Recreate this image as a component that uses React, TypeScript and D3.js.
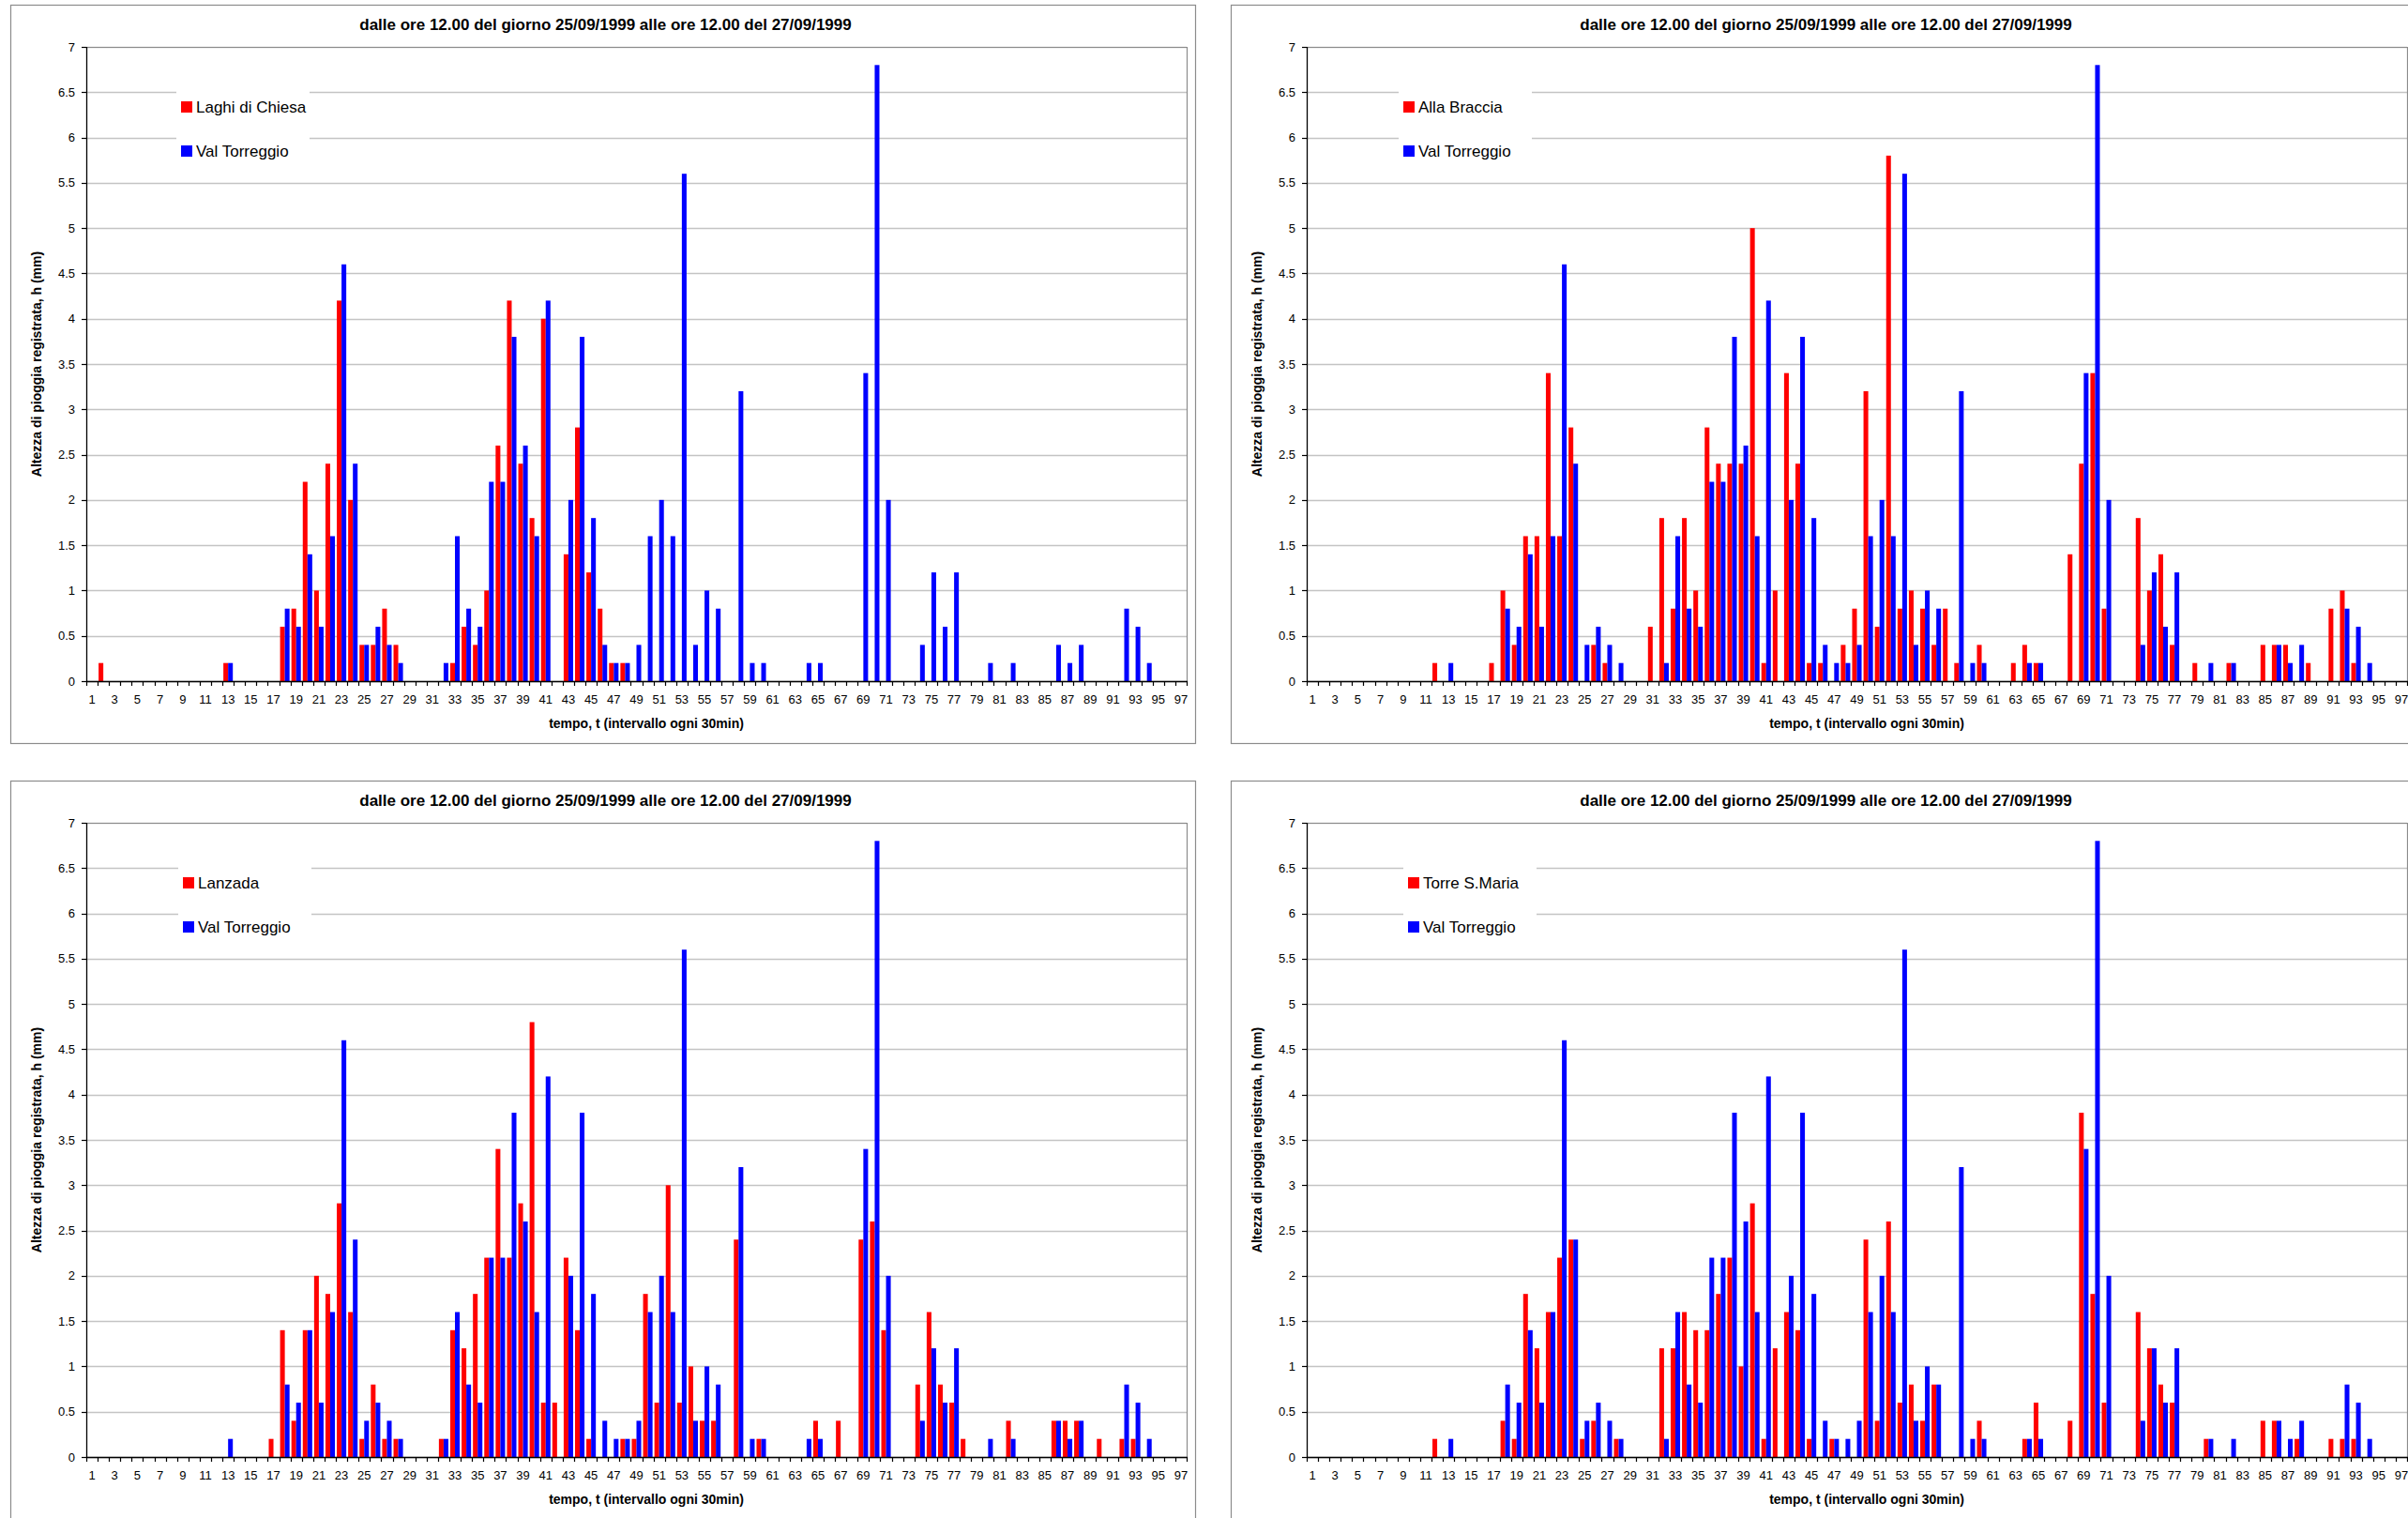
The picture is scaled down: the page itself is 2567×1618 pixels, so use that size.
import React from "react";
import * as d3 from "d3";

// ---- Text ----
const chartTitle = "dalle ore 12.00 del giorno 25/09/1999 alle ore 12.00 del 27/09/1999";
const yAxisTitle = "Altezza di pioggia registrata, h (mm)";
const xAxisTitle = "tempo, t (intervallo ogni 30min)";

// ---- Categories: half-hour steps 1..97 ----
const timeSteps = d3.range(1, 98);
const xTickLabels = timeSteps.filter((t) => t % 2 === 1);
const yTicks = [0, 0.5, 1, 1.5, 2, 2.5, 3, 3.5, 4, 4.5, 5, 5.5, 6, 6.5, 7];

// ---- Rainfall per half hour (mm), t = 1..97 ----
const valTorreggio = [
  0, 0, 0, 0, 0, 0, 0, 0, 0, 0,
  0, 0, 0.2, 0, 0, 0, 0, 0.8, 0.6, 1.4,
  0.6, 1.6, 4.6, 2.4, 0.4, 0.6, 0.4, 0.2, 0, 0,
  0, 0.2, 1.6, 0.8, 0.6, 2.2, 2.2, 3.8, 2.6, 1.6,
  4.2, 0, 2.0, 3.8, 1.8, 0.4, 0.2, 0.2, 0.4, 1.6,
  2.0, 1.6, 5.6, 0.4, 1.0, 0.8, 0, 3.2, 0.2, 0.2,
  0, 0, 0, 0.2, 0.2, 0, 0, 0, 3.4, 6.8,
  2.0, 0, 0, 0.4, 1.2, 0.6, 1.2, 0, 0, 0.2,
  0, 0.2, 0, 0, 0, 0.4, 0.2, 0.4, 0, 0,
  0, 0.8, 0.6, 0.2, 0, 0, 0,
];

const laghiDiChiesa = [
  0, 0.2, 0, 0, 0, 0, 0, 0, 0, 0,
  0, 0, 0.2, 0, 0, 0, 0, 0.6, 0.8, 2.2,
  1.0, 2.4, 4.2, 2.0, 0.4, 0.4, 0.8, 0.4, 0, 0,
  0, 0, 0.2, 0.6, 0.4, 1.0, 2.6, 4.2, 2.4, 1.8,
  4.0, 0, 1.4, 2.8, 1.2, 0.8, 0.2, 0.2, 0, 0,
  0, 0, 0, 0, 0, 0, 0, 0, 0, 0,
  0, 0, 0, 0, 0, 0, 0, 0, 0, 0,
  0, 0, 0, 0, 0, 0, 0, 0, 0, 0,
  0, 0, 0, 0, 0, 0, 0, 0, 0, 0,
  0, 0, 0, 0, 0, 0, 0,
];

const allaBraccia = [
  0, 0, 0, 0, 0, 0, 0, 0, 0, 0,
  0, 0.2, 0, 0, 0, 0, 0.2, 1.0, 0.4, 1.6,
  1.6, 3.4, 1.6, 2.8, 0, 0.4, 0.2, 0, 0, 0,
  0.6, 1.8, 0.8, 1.8, 1.0, 2.8, 2.4, 2.4, 2.4, 5.0,
  0.2, 1.0, 3.4, 2.4, 0.2, 0.2, 0, 0.4, 0.8, 3.2,
  0.6, 5.8, 0.8, 1.0, 0.8, 0.4, 0.8, 0.2, 0, 0.4,
  0, 0, 0.2, 0.4, 0.2, 0, 0, 1.4, 2.4, 3.4,
  0.8, 0, 0, 1.8, 1.0, 1.4, 0.4, 0, 0.2, 0,
  0, 0.2, 0, 0, 0.4, 0.4, 0.4, 0, 0.2, 0,
  0.8, 1.0, 0.2, 0, 0, 0, 0,
];

const lanzada = [
  0, 0, 0, 0, 0, 0, 0, 0, 0, 0,
  0, 0, 0, 0, 0, 0, 0.2, 1.4, 0.4, 1.4,
  2.0, 1.8, 2.8, 1.6, 0.2, 0.8, 0.2, 0.2, 0, 0,
  0, 0.2, 1.4, 1.2, 1.8, 2.2, 3.4, 2.2, 2.8, 4.8,
  0.6, 0.6, 2.2, 1.4, 0.2, 0, 0, 0.2, 0.2, 1.8,
  0.6, 3.0, 0.6, 1.0, 0.4, 0.4, 0, 2.4, 0, 0.2,
  0, 0, 0, 0, 0.4, 0, 0.4, 0, 2.4, 2.6,
  1.4, 0, 0, 0.8, 1.6, 0.8, 0.6, 0.2, 0, 0,
  0, 0.4, 0, 0, 0, 0.4, 0.4, 0.4, 0, 0.2,
  0, 0.2, 0.2, 0, 0, 0, 0,
];

const torreSMaria = [
  0, 0, 0, 0, 0, 0, 0, 0, 0, 0,
  0, 0.2, 0, 0, 0, 0, 0, 0.4, 0.2, 1.8,
  1.2, 1.6, 2.2, 2.4, 0.2, 0.4, 0, 0.2, 0, 0,
  0, 1.2, 1.2, 1.6, 1.4, 1.4, 1.8, 2.2, 1.0, 2.8,
  0.2, 1.2, 1.6, 1.4, 0.2, 0, 0.2, 0, 0, 2.4,
  0.4, 2.6, 0.6, 0.8, 0.4, 0.8, 0, 0, 0, 0.4,
  0, 0, 0, 0.2, 0.6, 0, 0, 0.4, 3.8, 1.8,
  0.6, 0, 0, 1.6, 1.2, 0.8, 0.6, 0, 0, 0.2,
  0, 0, 0, 0, 0.4, 0.4, 0, 0.2, 0, 0,
  0.2, 0.2, 0.2, 0, 0, 0, 0,
];

const referenceName = "Val Torreggio";
const stationNames = ["Laghi di Chiesa", "Alla Braccia", "Lanzada", "Torre S.Maria"];
const stationValues = [laghiDiChiesa, allaBraccia, lanzada, torreSMaria];

// ---- Layout ----
const W = 2567;
const H = 1618;
const FONT = "Arial, 'Liberation Sans', Helvetica, sans-serif";
const RED = "#ff0000";
const BLUE = "#0000ff";

const panelOrigins: [number, number][] = [
  [11, 5],
  [1312, 5],
  [11, 832],
  [1312, 832],
];
const legendShift = [0, 2, 2, 7];
const PANEL_W = 1263;
const PANEL_H = 787;
const PLOT = { left: 81, top: 45, width: 1173, height: 676 };

function Panel({
  ox,
  oy,
  name,
  values,
  shift,
}: {
  ox: number;
  oy: number;
  name: string;
  values: number[];
  shift: number;
}) {
  const left = ox + PLOT.left;
  const top = oy + PLOT.top;
  const right = left + PLOT.width;
  const bottom = top + PLOT.height;

  const x = d3.scaleBand<number>().domain(timeSteps).range([left, right]).padding(0);
  const step = x.step();
  const xs = d3
    .scaleBand<string>()
    .domain(["station", "ref"])
    .range([0, x.bandwidth()])
    .paddingInner(0)
    .paddingOuter(0.2);
  const y = d3.scaleLinear().domain([0, 7]).range([bottom, top]);

  const bars = (vals: number[], key: string, color: string) =>
    timeSteps.map((t, i) => {
      const v = vals[i];
      if (!v) return null;
      return (
        <rect
          key={key + t}
          x={(x(t) as number) + (xs(key) as number)}
          y={y(v)}
          width={xs.bandwidth()}
          height={bottom - y(v)}
          fill={color}
        />
      );
    });

  const lgX = left + 96 + shift;
  const lgY = oy + 75;

  return (
    <g>
      {/* chart area frame */}
      <rect x={ox + 0.5} y={oy + 0.5} width={PANEL_W} height={PANEL_H} fill="#fff" stroke="#8c8c8c" strokeWidth={1.2} />

      {/* title */}
      <text
        x={ox + PANEL_W / 2 + 3}
        y={oy + 27}
        textAnchor="middle"
        fontFamily={FONT}
        fontWeight="bold"
        fontSize={17}
      >
        {chartTitle}
      </text>

      {/* gridlines */}
      {yTicks.map((v) => (
        <line key={"g" + v} x1={left} x2={right} y1={Math.round(y(v)) + 0.5} y2={Math.round(y(v)) + 0.5} stroke="#c4c4c4" strokeWidth={1.4} />
      ))}
      {/* plot frame (top / right) */}
      <line x1={left} x2={right} y1={top + 0.5} y2={top + 0.5} stroke="#8c8c8c" strokeWidth={1.2} />
      <line x1={right + 0.5} x2={right + 0.5} y1={top} y2={bottom} stroke="#8c8c8c" strokeWidth={1.2} />

      {/* legend */}
      <rect x={lgX} y={lgY} width={142} height={106} fill="#fff" />
      <rect x={lgX + 5} y={oy + 103} width={12} height={12} fill={RED} />
      <text x={lgX + 21} y={oy + 109} dominantBaseline="central" fontFamily={FONT} fontSize={17}>
        {name}
      </text>
      <rect x={lgX + 5} y={oy + 150} width={12} height={12} fill={BLUE} />
      <text x={lgX + 21} y={oy + 156} dominantBaseline="central" fontFamily={FONT} fontSize={17}>
        {referenceName}
      </text>

      {/* bars */}
      {bars(values, "station", RED)}
      {bars(valTorreggio, "ref", BLUE)}

      {/* y axis */}
      <line x1={left + 0.5} x2={left + 0.5} y1={top} y2={bottom} stroke="#000" strokeWidth={1.3} />
      {yTicks.map((v) => (
        <g key={"y" + v}>
          <line x1={left - 5} x2={left} y1={Math.round(y(v)) + 0.5} y2={Math.round(y(v)) + 0.5} stroke="#000" strokeWidth={1.2} />
          <text x={left - 12} y={y(v)} dy="0.35em" textAnchor="end" fontFamily={FONT} fontSize={13}>
            {d3.format("")(v)}
          </text>
        </g>
      ))}

      {/* x axis */}
      <line x1={left} x2={right + 1} y1={bottom + 0.5} y2={bottom + 0.5} stroke="#000" strokeWidth={1.3} />
      {timeSteps.map((t) => (
        <line
          key={"xt" + t}
          x1={Math.round(x(t) as number) + 0.5}
          x2={Math.round(x(t) as number) + 0.5}
          y1={bottom}
          y2={bottom + 5}
          stroke="#000"
          strokeWidth={1.2}
        />
      ))}
      <line x1={right + 0.5} x2={right + 0.5} y1={bottom} y2={bottom + 5} stroke="#000" strokeWidth={1.2} />
      {xTickLabels.map((t) => (
        <text
          key={"xl" + t}
          x={(x(t) as number) + step / 2}
          y={bottom + 24}
          textAnchor="middle"
          fontFamily={FONT}
          fontSize={13}
        >
          {t}
        </text>
      ))}

      {/* axis titles */}
      <text
        x={left + 597}
        y={oy + 771}
        textAnchor="middle"
        fontFamily={FONT}
        fontWeight="bold"
        fontSize={14}
      >
        {xAxisTitle}
      </text>
      <text
        transform={`translate(${ox + 33},${(top + bottom) / 2}) rotate(-90)`}
        textAnchor="middle"
        fontFamily={FONT}
        fontWeight="bold"
        fontSize={14}
      >
        {yAxisTitle}
      </text>
    </g>
  );
}

export default function App() {
  return (
    <svg
      width={W}
      height={H}
      viewBox={`0 0 ${W} ${H}`}
      style={{ position: "fixed", left: 0, top: 0, background: "#fff" }}
    >
      <rect x={0} y={0} width={W} height={H} fill="#fff" />
      {stationNames.map((name, i) => (
        <Panel
          key={name}
          ox={panelOrigins[i][0]}
          oy={panelOrigins[i][1]}
          name={name}
          values={stationValues[i]}
          shift={legendShift[i]}
        />
      ))}
    </svg>
  );
}
